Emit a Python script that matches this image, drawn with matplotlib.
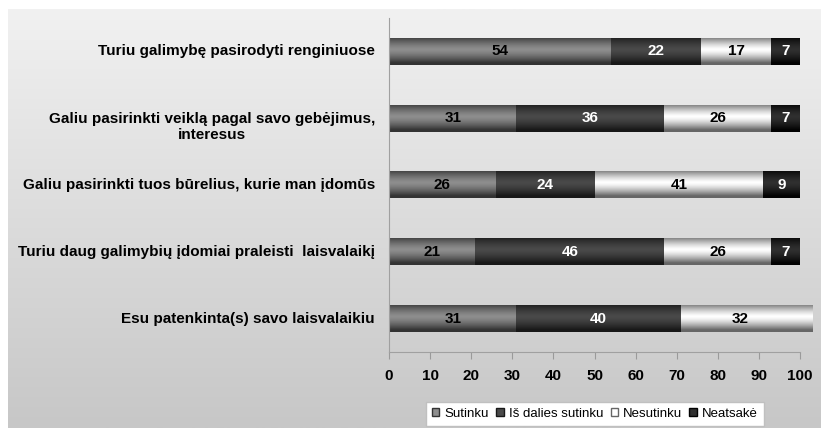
"""Laisvalaikio vertinimas: horizontali sudėtinė stulpelinė diagrama"""
import matplotlib
matplotlib.use("Agg")
import matplotlib.pyplot as plt
import numpy as np
from matplotlib.colors import LinearSegmentedColormap
from matplotlib.patches import Patch

plt.rcParams["font.family"] = ["Liberation Sans", "DejaVu Sans"]

categories = [
    "Turiu galimybę pasirodyti renginiuose",
    "Galiu pasirinkti veiklą pagal savo gebėjimus,\ninteresus",
    "Galiu pasirinkti tuos būrelius, kurie man įdomūs",
    "Turiu daug galimybių įdomiai praleisti  laisvalaikį",
    "Esu patenkinta(s) savo laisvalaikiu",
]
series_names = ["Sutinku", "Iš dalies sutinku", "Nesutinku", "Neatsakė"]
sutinku = [54, 31, 26, 21, 31]
is_dalies = [22, 36, 24, 46, 40]
nesutinku = [17, 26, 41, 26, 32]
neatsake = [7, 7, 9, 7, 0]
x_ticks = list(range(0, 101, 10))

values = [sutinku, is_dalies, nesutinku, neatsake]
# (kraštas, vidurys) – Excel stiliaus gradientas
grad_colors = [("#333333", "#8e8e8e"), ("#181818", "#4a4a4a"),
               ("#666666", "#ffffff"), ("#020202", "#303030")]
text_colors = ["black", "white", "black", "white"]

fig = plt.figure(figsize=(8.21, 4.28), dpi=100)

# fono gradientas
bg = fig.add_axes([8 / 821, 0, 1 - 8 / 821, (428 - 9) / 428])
bg_cmap = LinearSegmentedColormap.from_list("bg", ["#f1f1f1", "#c7c7c7"])
bg.imshow(np.linspace(0, 1, 256).reshape(-1, 1), cmap=bg_cmap, aspect="auto",
          extent=[0, 1, 0, 1], origin="upper")
bg.axis("off")

ax = fig.add_axes([389 / 821, 76 / 428, 411 / 821, 334 / 428])
ax.patch.set_alpha(0)

y = np.arange(len(categories))
left = np.zeros(len(categories))
t = np.linspace(-1, 1, 64) + 0.15
profile = np.clip(1 - np.abs(t) ** 1.4, 0, 1)
for vals, (edge, mid), tc, name in zip(values, grad_colors, text_colors, series_names):
    bars = ax.barh(y, vals, left=left, height=0.4, color=edge, clip_on=False,
                   label=name, linewidth=0)
    cmap = LinearSegmentedColormap.from_list(name, [edge, mid])
    for b in bars:
        if b.get_width() <= 0:
            continue
        x0, y0 = b.get_x(), b.get_y()
        ax.imshow(profile.reshape(-1, 1), cmap=cmap, aspect="auto",
                  extent=[x0, x0 + b.get_width(), y0 + b.get_height(), y0],
                  vmin=0, vmax=1, clip_on=False, zorder=1.5,
                  interpolation="bilinear")
    labels = [str(v) if v > 0 else "" for v in vals]
    ax.bar_label(bars, labels=labels, label_type="center", color=tc,
                 fontsize=11, fontweight="bold", zorder=3)
    left += np.array(vals)

ax.set_xlim(0, 100)
ax.set_ylim(len(categories) - 0.5, -0.5)
ax.set_xticks(x_ticks)
ax.set_yticks(y, [])

# kategorijų pavadinimai: kelių eilučių – pirma eilutė ties stulpeliu
ytrans = ax.get_yaxis_transform()
for yi, cat in zip(y, categories):
    multi = "\n" in cat
    ax.annotate(cat, xy=(0, yi), xycoords=ytrans,
                xytext=(-10, 4.5 if multi else 0), textcoords="offset points",
                ha="right", va="top" if multi else "center",
                multialignment="center", linespacing=1.15,
                fontsize=11, fontweight="bold")

for lbl in ax.get_xticklabels():
    lbl.set_fontweight("bold")
    lbl.set_fontsize(11)
ax.tick_params(axis="y", length=0)
ax.tick_params(axis="x", length=5, color="#9a9a9a", pad=7)
for s in ["top", "right"]:
    ax.spines[s].set_visible(False)
for s in ["left", "bottom"]:
    ax.spines[s].set_color("#a0a0a0")

handles = [Patch(facecolor=m, edgecolor=e) for e, m in grad_colors]
leg = fig.legend(handles, series_names, loc="upper center", ncol=4,
                 bbox_to_anchor=(595 / 821, 26 / 428), fontsize=9.5,
                 frameon=True, fancybox=False, edgecolor="#c0c0c0",
                 handlelength=0.55, handleheight=0.55, handletextpad=0.4,
                 columnspacing=0.55, borderpad=0.45, borderaxespad=0,
                 framealpha=1)

fig.savefig("out.png", dpi=100)
